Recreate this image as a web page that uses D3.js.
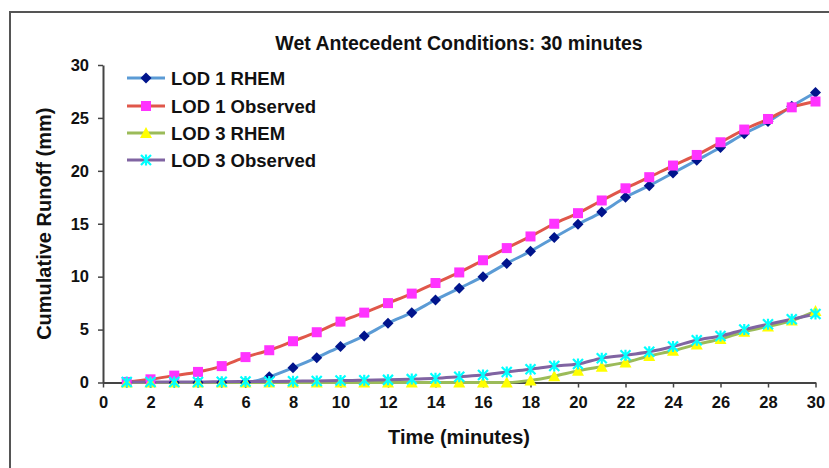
<!DOCTYPE html>
<html>
<head>
<meta charset="utf-8">
<script src="https://cdn.jsdelivr.net/npm/d3@7"></script>
<style>
  html, body { margin: 0; padding: 0; background: #fff; }
  svg { display: block; font-family: "Liberation Sans", Arial, sans-serif; }
</style>
</head>
<body>
<svg id="chart" width="829" height="468"></svg>
<script>
const minutes = d3.range(1, 31);
const lod1Rhem = [0,0,0,0,0,0,0.55,1.4,2.35,3.4,4.4,5.6,6.6,7.8,8.9,10.0,11.25,12.4,13.7,14.95,16.1,17.5,18.6,19.8,21.0,22.2,23.5,24.65,26.1,27.4];
const lod1Obs  = [0.05,0.3,0.65,1.0,1.55,2.4,3.05,3.9,4.75,5.75,6.6,7.5,8.4,9.4,10.4,11.55,12.7,13.8,15.0,16.0,17.2,18.35,19.4,20.5,21.5,22.7,23.9,24.9,26.0,26.55];
const lod3Rhem = [0,0,0,0,0,0,0,0,0,0,0,0,0,0,0,0,0,0.2,0.6,1.1,1.5,1.9,2.5,3.0,3.6,4.1,4.8,5.3,5.85,6.75];
const lod3Obs  = [0.05,0.05,0.05,0.05,0.08,0.1,0.1,0.12,0.15,0.18,0.22,0.25,0.32,0.4,0.55,0.7,1.0,1.25,1.55,1.75,2.3,2.57,2.9,3.4,4.0,4.4,5.0,5.5,5.97,6.47];
const seriesNames = ["LOD 1 RHEM", "LOD 1 Observed", "LOD 3 RHEM", "LOD 3 Observed"];
const xTicks = d3.range(0, 31, 2);
const yTicks = [0, 5, 10, 15, 20, 25, 30];
const titleText = "Wet Antecedent Conditions: 30 minutes";
const xTitle = "Time (minutes)";
const yTitle = "Cumulative Runoff (mm)";

const seriesData = [lod1Rhem, lod1Obs, lod3Rhem, lod3Obs];
const lineColors = ["#5b9bd5", "#e0574a", "#9bbb59", "#8064a2"];
const markerTypes = ["diamond", "square", "triangle", "star"];
const markerColors = ["#00148c", "#ff33ff", "#ffff00", "#00ffff"];

const svg = d3.select("#chart");
const W = 829, H = 468;
const plot = {left: 103, right: 815.5, top: 65, bottom: 382.5};

// outer frame
svg.append("rect").attr("x", 10).attr("y", 12).attr("width", W + 20).attr("height", H + 20)
  .attr("fill", "none").attr("stroke", "#555").attr("stroke-width", 2);

const x = d3.scaleLinear().domain([0, 30]).range([plot.left, plot.right]);
const y = d3.scaleLinear().domain([0, 30]).range([plot.bottom, plot.top]);

// axes
const xAxis = svg.append("g").attr("transform", `translate(0,${plot.bottom})`)
  .call(d3.axisBottom(x).tickValues(xTicks).tickSize(5).tickSizeOuter(0).tickPadding(9));
const yAxis = svg.append("g").attr("transform", `translate(${plot.left},0)`)
  .call(d3.axisLeft(y).tickValues(yTicks).tickSize(5).tickSizeOuter(0).tickPadding(9));
[xAxis, yAxis].forEach(a => {
  a.select(".domain").attr("stroke", "#444").attr("stroke-width", 2);
  a.selectAll(".tick line").attr("stroke", "#444").attr("stroke-width", 1.5);
  a.selectAll(".tick text").attr("font-size", 16.5).attr("font-weight", "bold")
    .attr("fill", "#111").attr("font-family", "Liberation Sans, Arial, sans-serif");
});

// lines and markers
const line = d3.line().x((d, i) => x(minutes[i])).y(d => y(d)).curve(d3.curveMonotoneX);

function marker(g, type, color) {
  if (type === "diamond") {
    g.append("path").attr("d", "M0,-5.5 L5.5,0 L0,5.5 L-5.5,0 Z").attr("fill", color);
  } else if (type === "square") {
    g.append("rect").attr("x", -5).attr("y", -5).attr("width", 10).attr("height", 10).attr("fill", color);
  } else if (type === "triangle") {
    g.append("path").attr("d", "M0,-6 L6,5 L-6,5 Z").attr("fill", color);
  } else {
    g.append("path").attr("d", "M-5,-5 L5,5 M5,-5 L-5,5 M0,-5.5 L0,5.5")
      .attr("stroke", color).attr("stroke-width", 2.2).attr("fill", "none");
  }
}

seriesData.forEach((vals, s) => {
  svg.append("path").datum(vals).attr("d", line).attr("fill", "none")
    .attr("stroke", lineColors[s]).attr("stroke-width", 3);
});
seriesData.forEach((vals, s) => {
  const g = svg.append("g");
  vals.forEach((v, i) => {
    const m = g.append("g").attr("transform", `translate(${x(minutes[i])},${y(v)})`);
    marker(m, markerTypes[s], markerColors[s]);
  });
});

// titles
svg.append("text").attr("x", 459).attr("y", 50).attr("text-anchor", "middle")
  .attr("font-size", 19.5).attr("font-weight", "bold").attr("fill", "#111").text(titleText);
svg.append("text").attr("x", 459).attr("y", 444).attr("text-anchor", "middle")
  .attr("font-size", 20).attr("font-weight", "bold").attr("fill", "#111").text(xTitle);
svg.append("text").attr("transform", `translate(51,${(plot.top + plot.bottom) / 2}) rotate(-90)`)
  .attr("text-anchor", "middle").attr("font-size", 20).attr("font-weight", "bold").attr("fill", "#111").text(yTitle);

// legend
const legendY = [78, 106, 133, 160];
seriesNames.forEach((name, s) => {
  const g = svg.append("g").attr("transform", `translate(0,${legendY[s]})`);
  g.append("line").attr("x1", 127).attr("x2", 165).attr("y1", 0).attr("y2", 0)
    .attr("stroke", lineColors[s]).attr("stroke-width", 3);
  const m = g.append("g").attr("transform", "translate(146,0)");
  marker(m, markerTypes[s], markerColors[s]);
  g.append("text").attr("x", 171).attr("y", 6.5).attr("font-size", 18.5).attr("font-weight", "bold")
    .attr("fill", "#111").text(name);
});
</script>
</body>
</html>
